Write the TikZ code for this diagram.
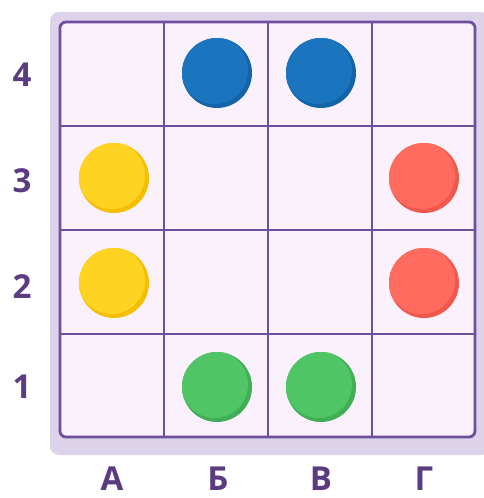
\documentclass[tikz,border=0pt]{standalone}
\usepackage{fontspec}
\setmainfont{Open Sans}
\definecolor{framec}{HTML}{DCD3EA}
\definecolor{cellc}{HTML}{FAF1FC}
\definecolor{linec}{HTML}{6E4F9E}
\definecolor{labc}{HTML}{5B3C80}
\definecolor{yel}{HTML}{FFD322}\definecolor{yeld}{HTML}{F5BE00}
\definecolor{red}{HTML}{FF6B5E}\definecolor{redd}{HTML}{F0584C}
\definecolor{blu}{HTML}{1A74BE}\definecolor{blud}{HTML}{1465A8}
\definecolor{grn}{HTML}{4FC565}\definecolor{grnd}{HTML}{40AE55}
\tikzset{lab/.style={text=labc,font=\fontsize{33}{33}\selectfont\bfseries,inner sep=0pt}}
\newcommand{\ball}[4]{%
  \begin{scope}
    \fill[#4] (#1,#2) circle (35);
    \clip (#1,#2) circle (35);
    \fill[#3] (#1-2.5,#2-2.5) circle (33.5);
  \end{scope}}
\begin{document}
\begin{tikzpicture}[x=1pt,y=-1pt]
\useasboundingbox (0,0) rectangle (483,498);
\fill[white] (0,0) rectangle (483,498);
\fill[framec,rounded corners=9] (50,12) rectangle (490,455);
\fill[cellc] (60,22) rectangle (475,437);
\foreach \x in {164,268,372}{\draw[linec,line width=1.8] (\x,22) -- (\x,437);}
\foreach \y in {126,230,334}{\draw[linec,line width=1.8] (60,\y) -- (475,\y);}
\draw[linec,line width=2.8,rounded corners=6] (60,22) rectangle (475,437);
\ball{217}{73}{blu}{blud}
\ball{321}{73}{blu}{blud}
\ball{114}{178}{yel}{yeld}
\ball{114}{283}{yel}{yeld}
\ball{424}{178}{red}{redd}
\ball{424}{283}{red}{redd}
\ball{217}{387}{grn}{grnd}
\ball{321}{387}{grn}{grnd}
\node[lab] (r4) at (22,75) {4};
\node[lab] (r3) at (22,181) {3};
\node[lab] (r2) at (22,287) {2};
\node[lab] (r1) at (22,387) {1};
\node[lab] (cA) at (112,479) {А};
\node[lab] (cB) at (218,479) {Б};
\node[lab] (cV) at (321,479) {В};
\node[lab] (cG) at (424,479) {Г};
\end{tikzpicture}
\end{document}
